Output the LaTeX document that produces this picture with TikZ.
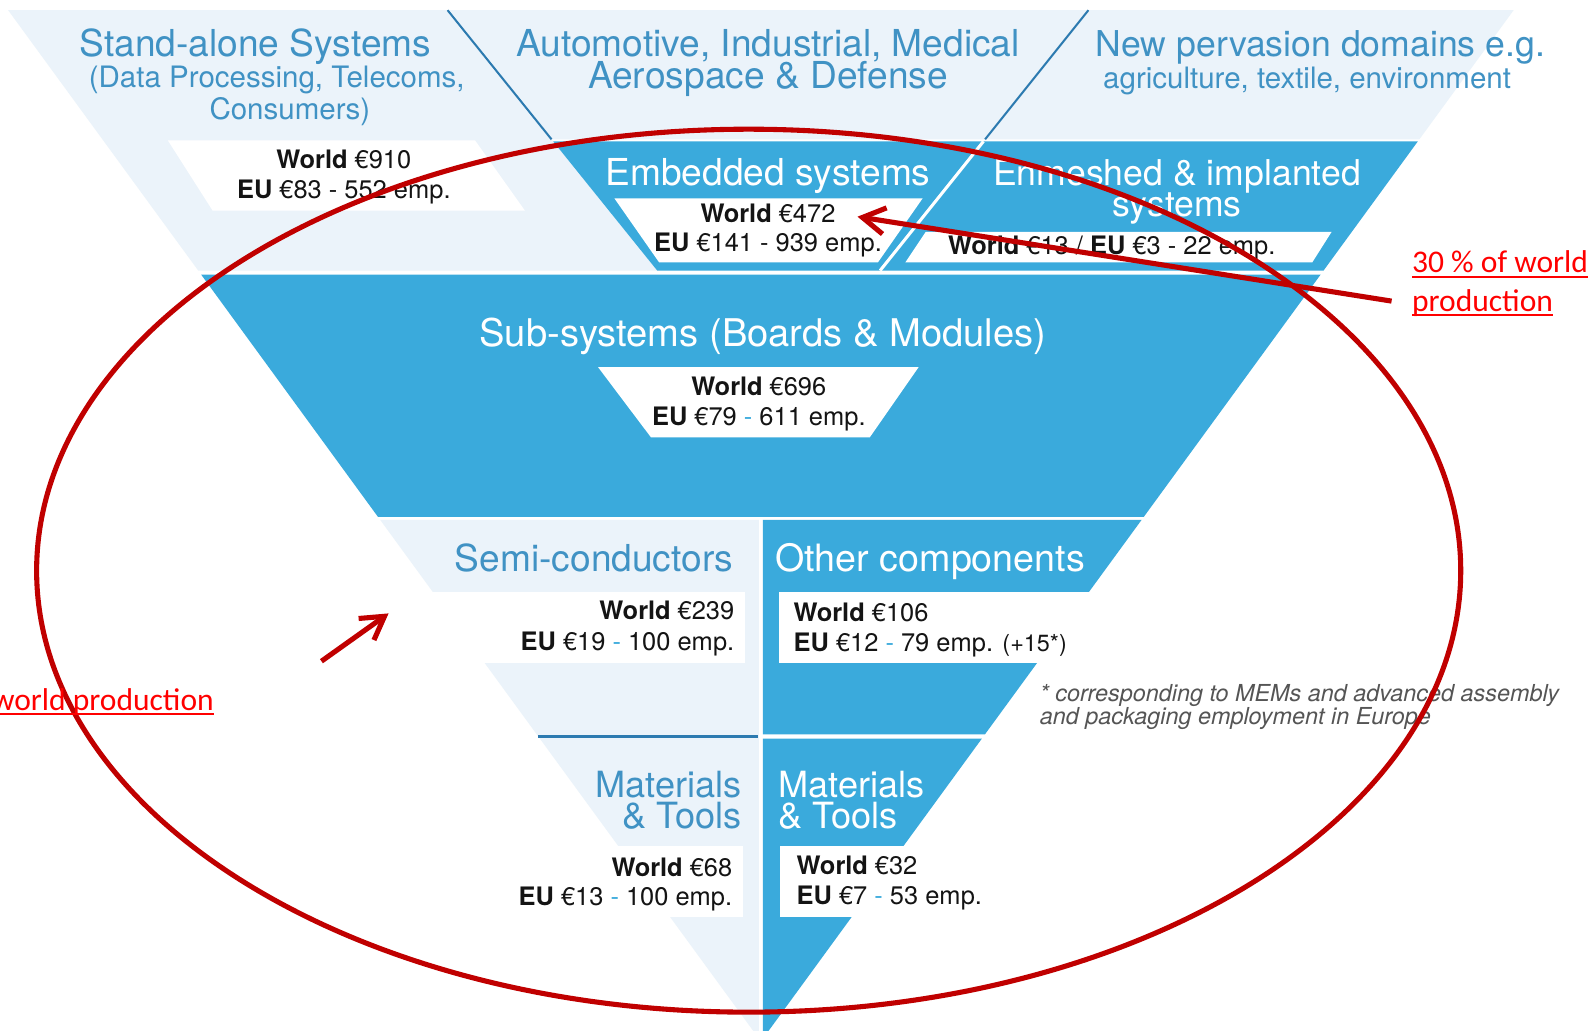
\documentclass[tikz,border=0pt]{standalone}
\usepackage{fontspec}
\setmainfont{TeX Gyre Heros}
\newfontfamily\calibrifont{Carlito}
\usetikzlibrary{arrows.meta}

\definecolor{paleblue}{RGB}{235,243,250}
\definecolor{tierblue}{RGB}{58,170,220}
\definecolor{headblue}{RGB}{64,146,196}
\definecolor{rulebl}{RGB}{44,122,176}
\definecolor{annred}{RGB}{192,0,0}
\definecolor{linkred}{RGB}{255,0,0}
\definecolor{notegray}{RGB}{85,85,85}
\definecolor{valink}{RGB}{20,20,20}

% underlined annotation text
\newsavebox\ulbox
\newcommand\redul[1]{\sbox\ulbox{#1}\rlap{\rule[-5pt]{\wd\ulbox}{2pt}}\usebox\ulbox}
% value line helpers
\newcommand\wld{\textbf{World}}
\newcommand\eub{\textbf{EU}}
\newcommand\bdash{\textcolor{tierblue}{-}}

\begin{document}
\begin{tikzpicture}[x=1pt,y=-1pt,
  title/.style={inner sep=0pt, anchor=base, font=\fontsize{36.5}{42}\selectfont, text=headblue},
  titlew/.style={title, text=white},
  subtitle/.style={title, font=\fontsize{29}{35}\selectfont},
  val/.style={inner sep=0pt, anchor=base, font=\fontsize{25}{30}\selectfont, text=valink},
  note/.style={inner sep=0pt, anchor=base west, font=\fontsize{23}{27}\selectfont\itshape, text=notegray},
  ann/.style={inner sep=0pt, anchor=base west, font=\calibrifont\fontsize{31}{37}\selectfont, text=linkred},
  annline/.style={draw=annred, line width=5pt},
  annarrow/.style={annline, -{Straight Barb[length=22pt,width=26pt]}},
  divider/.style={draw=rulebl, line width=2pt},
]
\useasboundingbox (0,0) rectangle (1568,1013);
\fill[white] (0,0) rectangle (1568,1013);

% ---- application tier (light) ----
\fill[paleblue] (8,10) -- (1488,10) -- (1395.3,137) -- (542.2,137) -- (646.1,266) -- (194.9,266) -- cycle;
% embedded / enmeshed band
\fill[tierblue] (543.8,139) -- (1393.8,139) -- (1301.1,266) -- (646.1,266) -- cycle;
\draw[white, line width=3pt] (966.8,139) -- (865.2,266);
\draw[divider] (440,10) -- (542.2,137);
\draw[divider] (1070,10) -- (968.4,137);

% ---- sub-systems ----
\fill[tierblue] (197.8,270) -- (1298.2,270) -- (1124.5,508) -- (371.5,508) -- cycle;

% ---- components and materials ----
\fill[paleblue] (373.7,511) -- (746,511) -- (746,1021) -- cycle;
\fill[tierblue] (750,511) -- (1122.3,511) -- (968.2,722) -- (750,722) -- cycle;
\fill[tierblue] (750,726) -- (965.3,726) -- (750,1021) -- cycle;
\draw[rulebl, line width=3pt] (529,724) -- (745,724);

% ---- white value panels ----
\fill[white] (165,138) -- (467,138) -- (516,207) -- (209,207) -- cycle;
\fill[white] (604,195) -- (907,195) -- (863,258) -- (648,258) -- cycle;
\fill[white] (910,228) -- (1309,228) -- (1290,258) -- (890,258) -- cycle;
\fill[white] (588,361) -- (903,361) -- (855,430) -- (640,430) -- cycle;
\fill[white] (410,582) rectangle (732,652);
\fill[white] (766,582) rectangle (1090,652);
\fill[white] (595,832) rectangle (730,901);
\fill[white] (767,832) rectangle (900,901);

% ---- headings ----
\node[title] (sa1) at (251,55.5) {Stand-alone Systems};
\node[subtitle] (sa2) at (272,86.5) {(Data Processing, Telecoms,};
\node[subtitle] (sa3) at (285,117.5) {Consumers)};
\node[title] (au1) at (755,55.5) {Automotive, Industrial, Medical};
\node[title] (au2) at (755,87) {Aerospace \& Defense};
\node[title, font=\fontsize{35}{42}\selectfont] (np1) at (1298,55.5) {New pervasion domains e.g.};
\node[subtitle] (np2) at (1285,87) {agriculture, textile, environment};

\node[val] (sav1) at (338,166) {\wld{} €910};
\node[val] (sav2) at (338,195) {\eub{} €83 - 552 emp.};

\node[titlew] (em1) at (755,182.5) {Embedded systems};
\node[val] (emv1) at (755,219) {\wld{} €472};
\node[val] (emv2) at (755,247) {\eub{} €141 - 939 emp.};

\node[titlew, font=\fontsize{35}{42}\selectfont] (en1) at (1157,182.5) {Enmeshed \& implanted};
\node[titlew, font=\fontsize{35}{42}\selectfont] (en2) at (1157,213) {systems};
\node[val] (env) at (1093,250) {\wld{} €13 / \eub{} €3 - 22 emp.};

\node[titlew, font=\fontsize{37.5}{44}\selectfont] (ss1) at (750,340.5) {Sub-systems (Boards \& Modules)};
\node[val] (ssv1) at (746,389) {\wld{} €696};
\node[val] (ssv2) at (746,418) {\eub{} €79 \bdash{} 611 emp.};

\node[title, anchor=base east] (sc1) at (721,561.5) {Semi-conductors};
\node[val, anchor=base east] (scv1) at (722,609) {\wld{} €239};
\node[val, anchor=base east] (scv2) at (722,639) {\eub{} €19 \bdash{} 100 emp.};

\node[titlew, anchor=base west, font=\fontsize{37}{44}\selectfont] (oc1) at (762,561.5) {Other components};
\node[val, anchor=base west] (ocv1) at (780,611) {\wld{} €106};
\node[val, anchor=base west] (ocv2) at (780,640) {\eub{} €12 \bdash{} 79 emp. {\fontsize{23}{27}\selectfont(+15*)}};
\node[note] (fn1) at (1022,690) {* corresponding to MEMs and advanced assembly};
\node[note] (fn2) at (1022,712) {and packaging employment in Europe};

\node[title, anchor=base east, font=\fontsize{35.5}{42}\selectfont] (ml1) at (729,783.5) {Materials};
\node[title, anchor=base east, font=\fontsize{35.5}{42}\selectfont] (ml2) at (729,814.5) {\& Tools};
\node[val, anchor=base east] (mlv1) at (720,862) {\wld{} €68};
\node[val, anchor=base east] (mlv2) at (720,890) {\eub{} €13 \bdash{} 100 emp.};

\node[titlew, anchor=base west, font=\fontsize{35.5}{42}\selectfont] (mr1) at (765,783.5) {Materials};
\node[titlew, anchor=base west, font=\fontsize{35.5}{42}\selectfont] (mr2) at (765,814.5) {\& Tools};
\node[val, anchor=base west] (mrv1) at (783,860) {\wld{} €32};
\node[val, anchor=base west] (mrv2) at (783,889) {\eub{} €7 \bdash{} 53 emp.};

% ---- annotations ----
\draw[annline] (736,561) ellipse [x radius=700pt, y radius=434pt];
\coordinate (bigtail) at (1368,296);
\coordinate (bigtip) at (843,213);
\draw[annarrow] (bigtail) -- (bigtip);
\coordinate (smalltail) at (316,650);
\coordinate (smalltip) at (382,603);
\draw[annarrow] (smalltail) -- (smalltip);

\node[ann] (sh1) at (1388,268) {\redul{30 \% of world}};
\node[ann] (sh2) at (1388,306) {\redul{production}};
\node[ann] (sh3) at (-8,698) {\redul{world production}};
\end{tikzpicture}
\end{document}
